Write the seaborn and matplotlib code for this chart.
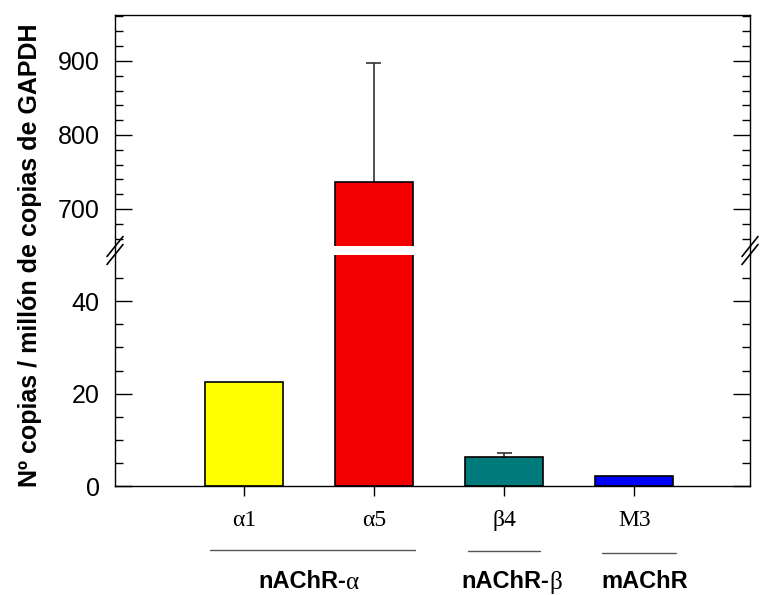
import matplotlib
matplotlib.use("Agg")
import matplotlib.pyplot as plt
from matplotlib.lines import Line2D
import seaborn as sns
import pandas as pd
import numpy as np

categories = ["α1", "α5", "β4", "M3"]
values = [22.6, 736.5, 6.2, 2.2]
err_up = [0.0, 160.5, 0.9, 0.0]
colors = ["#FFFF00", "#F20000", "#007B7B", "#0000FF"]
group_prefix = ["nAChR-", "nAChR-", "mAChR"]
group_greek = ["α", "β", ""]

sns.set_theme(style="white")
plt.rcParams["font.family"] = ["Liberation Sans", "DejaVu Sans"]
plt.rcParams["text.color"] = "black"
plt.rcParams["xtick.color"] = "black"
plt.rcParams["ytick.color"] = "black"
plt.rcParams["axes.labelcolor"] = "black"

W, H = 765, 595
fig = plt.figure(figsize=(W / 100, H / 100), dpi=100)

def fx(px):
    return px / W

def fy(py):
    return 1 - py / H

left, right = 115, 750
top, brk_top, brk_bot, bottom = 15, 246, 255, 486
ax_hi = fig.add_axes([fx(left), fy(brk_top), fx(right) - fx(left), fy(top) - fy(brk_top)])
ax_lo = fig.add_axes([fx(left), fy(bottom), fx(right) - fx(left), fy(brk_bot) - fy(bottom)])

df = pd.DataFrame({"cat": categories, "val": values})
xs = np.arange(len(categories))
for ax in (ax_hi, ax_lo):
    for i in xs:
        if err_up[i] > 0:
            ax.vlines(i, values[i], values[i] + err_up[i], color="#333333", lw=1.2, zorder=1)
            ax.hlines(values[i] + err_up[i], i - 0.058, i + 0.058, color="#333333", lw=1.2, zorder=1)
    sns.barplot(data=df, x="cat", y="val", hue="cat", palette=colors, order=categories,
                width=0.6, edgecolor="black", linewidth=1.2, errorbar=None,
                legend=False, ax=ax, saturation=1, zorder=2)
    ax.set_xlim(-0.99, 3.89)
    ax.set_xlabel("")
    ax.set_ylabel("")
    for s in ax.spines.values():
        s.set_color("black")
        s.set_linewidth(1.0)

ax_hi.set_ylim(650, 962)
ax_lo.set_ylim(0, 50)

ax_hi.spines["bottom"].set_visible(False)
ax_lo.spines["top"].set_visible(False)

ax_hi.set_yticks([700, 800, 900])
ax_hi.set_yticks(np.arange(660, 962, 20), minor=True)
ax_lo.set_yticks([0, 20, 40])
ax_lo.set_yticks(np.arange(0, 50, 5), minor=True)

for ax in (ax_hi, ax_lo):
    ax.tick_params(axis="y", which="major", direction="in", length=12, width=1.0,
                   left=True, right=True, labelsize=18, pad=11, color="black",
                   labelcolor="black")
    ax.tick_params(axis="y", which="minor", direction="in", length=6, width=1.0,
                   left=True, right=True, color="black")

ax_hi.tick_params(axis="x", which="both", bottom=False, top=False, labelbottom=False)
ax_lo.set_xticks(xs)
ax_lo.set_xticklabels(categories, fontsize=17, fontfamily=["Liberation Serif", "DejaVu Serif"],
                      color="black")
ax_lo.tick_params(axis="x", which="major", direction="out", length=7, width=1.0,
                  bottom=True, top=False, pad=10, color="black")

# connect spines across break
for xp in (left, right):
    fig.add_artist(Line2D([fx(xp), fx(xp)], [fy(brk_bot), fy(brk_top)], color="black",
                          lw=1.0, transform=fig.transFigure))
    for dy in (-4, 4):
        yc = (brk_top + brk_bot) / 2 + dy
        fig.add_artist(Line2D([fx(xp - 8), fx(xp + 8)], [fy(yc + 10), fy(yc - 10)],
                              color="black", lw=1.2, transform=fig.transFigure))

fig.text(fx(30), fy(255), "Nº copias / millón de copias de GAPDH", rotation=90,
         ha="center", va="center", fontsize=18, fontweight="bold")

# group lines and labels
line_specs = [(210, 415, 550), (468, 540, 551), (602, 676, 553)]
label_join = [346, 549, 645]
for (x0, x1, yl), pre, gr, jx in zip(line_specs, group_prefix, group_greek, label_join):
    fig.add_artist(Line2D([fx(x0), fx(x1)], [fy(yl), fy(yl)], color="#555555",
                          lw=1.0, transform=fig.transFigure))
    if gr:
        fig.text(fx(jx), fy(582), pre, ha="right", va="center", fontsize=17,
                 fontweight="bold")
        fig.text(fx(jx), fy(583), gr, ha="left", va="center", fontsize=18,
                 fontfamily=["Liberation Serif", "DejaVu Serif"])
    else:
        fig.text(fx(jx), fy(582), pre, ha="center", va="center", fontsize=17,
                 fontweight="bold")

fig.savefig("out.png", dpi=100, facecolor="white")
